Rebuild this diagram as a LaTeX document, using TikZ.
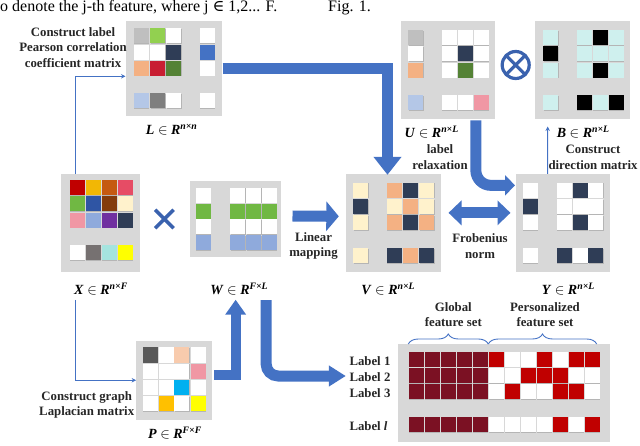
\documentclass[tikz,border=0pt]{standalone}
\usepackage{fontspec}
\setmainfont{Liberation Serif}
\newfontfamily\symfont{DejaVu Serif}
\usetikzlibrary{shapes.misc, arrows.meta, shadows, decorations.pathreplacing}
\definecolor{panelgray}{HTML}{D8D8D8}
\definecolor{arrowblue}{HTML}{4472C4}
\definecolor{crossblue}{HTML}{3A62AE}
\definecolor{cgray}{HTML}{BFBFBF}
\definecolor{cmid}{HTML}{7F7F7F}
\definecolor{cdim}{HTML}{595959}
\definecolor{cwarm}{HTML}{767171}
\definecolor{clime}{HTML}{92D050}
\definecolor{cgreen}{HTML}{548235}
\definecolor{cleaf}{HTML}{70B843}
\definecolor{cnavy}{HTML}{2F3D56}
\definecolor{cblue}{HTML}{4472C4}
\definecolor{croyal}{HTML}{2F55A4}
\definecolor{cpale}{HTML}{B4C7E7}
\definecolor{csky}{HTML}{8FAADC}
\definecolor{cpeach}{HTML}{F4B183}
\definecolor{cskin}{HTML}{F8CBAD}
\definecolor{ccrim}{HTML}{C81E32}
\definecolor{cpink}{HTML}{F097A4}
\definecolor{crose}{HTML}{E64C65}
\definecolor{cred}{HTML}{C00000}
\definecolor{cwine}{HTML}{7B1123}
\definecolor{camber}{HTML}{F2B705}
\definecolor{cgold}{HTML}{FFC000}
\definecolor{cyell}{HTML}{FFFF00}
\definecolor{crust}{HTML}{C55A11}
\definecolor{cbrown}{HTML}{843C0C}
\definecolor{ccream}{HTML}{FFF2CC}
\definecolor{cviolet}{HTML}{7030A0}
\definecolor{caqua}{HTML}{A5E4DF}
\definecolor{cice}{HTML}{CFF0EE}
\definecolor{ccyan}{HTML}{00B0F0}
\tikzstyle{panel} = [rectangle, fill=panelgray, inner sep=0pt]
\tikzstyle{cell} = [rectangle, minimum size=15pt, inner sep=0pt, drop shadow={shadow xshift=0.5pt, shadow yshift=-0.5pt, fill=black!60, opacity=0.3}]
\tikzstyle{caption} = [font=\bfseries\fontsize{12.8}{15.5}\selectfont, align=center, text=black!85, inner sep=0pt]
\tikzstyle{matname} = [font=\fontsize{14}{16}\selectfont, inner sep=0pt]
\tikzstyle{bigarrow} = [draw=arrowblue, line width=11pt]
\tikzstyle{thinarrow} = [draw=arrowblue, line width=1pt, -{Stealth[length=4.5pt,width=4.5pt]}]
\tikzstyle{setbrace} = [draw=arrowblue, line width=0.9pt, decorate, decoration={brace, amplitude=10pt}]
\newcommand{\matsym}[2]{\textbf{\textit{#1}} $\in$ \textbf{\textit{R}}\textsuperscript{\textbf{\textit{#2}}}}
\newcommand{\cellrow}[4]{\foreach \c [count=\k from 0] in {#4} {\pgfmathsetmacro{\x}{{#2}[\k]}\node[cell, fill=\c] (#1-\k) at (\x,#3) {};}}
\begin{document}
\begin{tikzpicture}[x=1pt, y=-1pt]
\useasboundingbox (0,0) rectangle (640,446);

% Running text of the page
\node[font=\fontsize{16}{18}\selectfont, anchor=base west, inner sep=0pt] (pagetext) at (0,11.2) {o denote the j-th feature, where j {\symfont ∈} 1,2... F.};
\node[font=\fontsize{16}{18}\selectfont, anchor=base west, inner sep=0pt] (figtext) at (328,11.2) {Fig. 1.};

% Panels
\node[panel, minimum width=96.6pt, minimum height=95.3pt] (panelL) at (174,68.3) {};
\node[panel, minimum width=94.3pt, minimum height=98pt] (panelU) at (447.85,70.3) {};
\node[panel, minimum width=95pt, minimum height=98pt] (panelB) at (582.8,70.3) {};
\node[panel, minimum width=79.3pt, minimum height=97.7pt] (panelX) at (100.65,222.85) {};
\node[panel, minimum width=91.3pt, minimum height=76pt] (panelW) at (235.65,219) {};
\node[panel, minimum width=95pt, minimum height=97.7pt] (panelV) at (393.2,222.85) {};
\node[panel, minimum width=94.3pt, minimum height=97.7pt] (panelY) at (562.85,222.85) {};
\node[panel, minimum width=76pt, minimum height=79pt] (panelP) at (174.3,380.2) {};
\node[panel, minimum width=212.3pt, minimum height=98.3pt] (panelF) at (503.85,392.85) {};

% Cells of L
\cellrow{L1}{141,157.5,173.5,207}{36}{cgray,clime,white,white}
\cellrow{L2}{141,157.5,173.5,207}{52.3}{white,white,cnavy,cblue}
\cellrow{L3}{141,157.5,173.5,207}{68.3}{cpeach,ccrim,cgreen,white}
\cellrow{L4}{141,157.5,173.5,207}{101}{cpale,cmid,white,white}
% Cells of U
\cellrow{U1}{415.7,449.3,465.3,481}{37.7}{cgray,white,white,white}
\cellrow{U2}{415.7,449.3,465.3,481}{54}{white,white,cnavy,white}
\cellrow{U3}{415.7,449.3,465.3,481}{70.3}{cpeach,white,cgreen,white}
\cellrow{U4}{415.7,449.3,465.3,481}{102.7}{cpale,white,white,cpink}
% Cells of B
\cellrow{B1}{550.7,584.3,600.3,616.3}{37.7}{cice,cice,black,cice}
\cellrow{B2}{550.7,584.3,600.3,616.3}{54}{black,cice,cice,cice}
\cellrow{B3}{550.7,584.3,600.3,616.3}{70.3}{cice,cice,black,cice}
\cellrow{B4}{550.7,584.3,600.3,616.3}{102.7}{cice,black,cice,black}
% Cells of X
\cellrow{X1}{77,93,109.3,125}{187.7}{cred,camber,crust,crose}
\cellrow{X2}{77,93,109.3,125}{204}{cleaf,croyal,cbrown,ccream}
\cellrow{X3}{77,93,109.3,125}{220.3}{cpink,csky,cviolet,cnavy}
\cellrow{X4}{77,93,109.3,125}{253}{white,cwarm,caqua,cyell}
% Cells of W
\cellrow{W1}{203,237.7,253.7,269.3}{195.3}{white,white,white,white}
\cellrow{W2}{203,237.7,253.7,269.3}{211.3}{cleaf,cleaf,cleaf,cleaf}
\cellrow{W3}{203,237.7,253.7,269.3}{227}{white,white,white,white}
\cellrow{W4}{203,237.7,253.7,269.3}{243}{csky,csky,csky,csky}
% Cells of V
\cellrow{V1}{360.7,394.3,410.3,426.7}{190.3}{ccream,cpeach,cnavy,ccream}
\cellrow{V2}{360.7,394.3,410.3,426.7}{206.7}{cnavy,ccream,cpeach,ccream}
\cellrow{V3}{360.7,394.3,410.3,426.7}{223}{ccream,cpeach,cnavy,cpeach}
\cellrow{V4}{360.7,394.3,410.3,426.7}{255.7}{ccream,cnavy,cpeach,cnavy}
% Cells of Y
\cellrow{Y1}{530.3,564,580,595.7}{190.3}{white,white,cnavy,white}
\cellrow{Y2}{530.3,564,580,595.7}{206.7}{cnavy,white,white,white}
\cellrow{Y3}{530.3,564,580,595.7}{223}{white,white,cnavy,white}
\cellrow{Y4}{530.3,564,580,595.7}{255.7}{white,cnavy,white,cnavy}
% Cells of P
\cellrow{P1}{150,166,181.7,198}{355}{cdim,white,cskin,white}
\cellrow{P2}{150,166,181.7,198}{371.3}{white,white,white,cpink}
\cellrow{P3}{150,166,181.7,198}{387.3}{white,white,ccyan,white}
\cellrow{P4}{150,166,181.7,198}{403.7}{white,cgold,white,cyell}
% Cells of the feature sets
\def\featcols{416.3,432.3,448.3,464.3,480.3,496.3,512.3,528.3,544.3,560.3,576.3,592.3}
\cellrow{F1}{\featcols}{359.3}{cwine,cwine,cwine,cwine,cwine,cred,white,white,cred,white,cred,cred}
\cellrow{F2}{\featcols}{375.7}{cwine,cwine,cwine,cwine,cwine,white,white,cred,cred,cred,white,white}
\cellrow{F3}{\featcols}{391.7}{cwine,cwine,cwine,cwine,cwine,white,cred,white,white,cred,cred,white}
\cellrow{F4}{\featcols}{424.7}{cwine,cwine,cwine,cwine,cwine,white,white,white,white,cred,white,cred}

% Matrix names
\node[matname] (nameL) at (171.7,130) {\matsym{L}{n×n}};
\node[matname] (nameU) at (431.7,132) {\matsym{U}{n×L}};
\node[matname] (nameB) at (583.3,132) {\matsym{B}{n×L}};
\node[matname] (nameX) at (101,289) {\matsym{X}{n×F}};
\node[matname] (nameW) at (239.3,289) {\matsym{W}{F×L}};
\node[matname] (nameV) at (388.3,289) {\matsym{V}{n×L}};
\node[matname] (nameY) at (568.3,289) {\matsym{Y}{n×L}};
\node[matname] (nameP) at (175,432.7) {\matsym{P}{F×F}};

% Captions
\node[caption] (captionL) at (73,47.5) {Construct label\\Pearson correlation\\coefficient matrix};
\node[caption] (captionP) at (86.7,404.7) {Construct graph\\Laplacian matrix};
\node[caption] (captionU) at (440,157) {label\\relaxation};
\node[caption] (captionB) at (593,157.5) {Construct\\direction matrix};
\node[caption] (captionW) at (313.5,246) {Linear\\mapping};
\node[caption] (captionV) at (480,246) {Frobenius\\norm};
\node[caption] (captionG) at (453.3,314.5) {Global\\feature set};
\node[caption] (captionS) at (545,314.5) {Personalized\\feature set};
\node[caption, anchor=west] (label1) at (349.3,360.7) {Label 1};
\node[caption, anchor=west] (label2) at (349.3,376.7) {Label 2};
\node[caption, anchor=west] (label3) at (349.3,392.7) {Label 3};
\node[caption, anchor=west] (labell) at (349.3,426) {Label \textit{l}};

% Operators
\node[cross out, draw=crossblue, line width=3.5pt, minimum size=15pt, inner sep=0pt] (times) at (164.3,219) {};
\node[circle, draw=crossblue, line width=3.2pt, minimum size=27pt, inner sep=0pt] (otimes) at (515.7,65) {};
\node[cross out, draw=crossblue, line width=3.2pt, minimum size=14pt, inner sep=0pt] (otimescross) at (otimes) {};

% Braces
\coordinate (globalA) at (408.3,344);
\coordinate (globalB) at (488.3,344);
\coordinate (personalB) at (596.7,344);
\draw [setbrace] (globalA) -- (globalB);
\draw [setbrace] (globalB) -- (personalB);

% Arrows
\draw [bigarrow, -{Triangle[length=18pt,width=27pt]}] (panelL.east) -| ([xshift=-5.7pt,yshift=-1pt]panelV.north);
\draw [bigarrow, rounded corners=15pt, -{Triangle[length=10pt,width=20pt]}] ([xshift=28pt,yshift=-1pt]panelU.south) |- ([xshift=-0.5pt,yshift=37.5pt]panelY.west);
\draw [bigarrow, -{Triangle[length=12.5pt,width=29pt]}] ([xshift=11pt,yshift=3pt]panelW.east) -- ([xshift=-6.7pt,yshift=6.5pt]panelV.west);
\draw [bigarrow, {Triangle[length=13pt,width=24pt]}-{Triangle[length=13pt,width=24pt]}] ([xshift=7.6pt,yshift=10pt]panelV.east) -- ([xshift=-5pt,yshift=10pt]panelY.west);
\draw [bigarrow, rounded corners=12pt, -{Triangle[length=17pt,width=20pt]}] ([xshift=30.5pt,yshift=-43pt]panelW.south) |- ([xshift=-3.5pt,yshift=0.7pt]label2.west);
\draw [bigarrow, line width=10pt, -{Triangle[length=15pt,width=20pt]}] ([xshift=1.5pt,yshift=5pt]panelP.east) -| ([yshift=-42.5pt]panelW.south);
\draw [thinarrow] ([xshift=-25.6pt]panelX.north) |- ([yshift=-8pt]panelL.west);
\draw [thinarrow] ([xshift=-25.6pt,yshift=-28pt]panelX.south) |- (panelP.west);
\draw [thinarrow] ([xshift=-15.2pt]panelY.north) -- ([xshift=-35.1pt,yshift=-7pt]panelB.south);

\end{tikzpicture}
\end{document}
